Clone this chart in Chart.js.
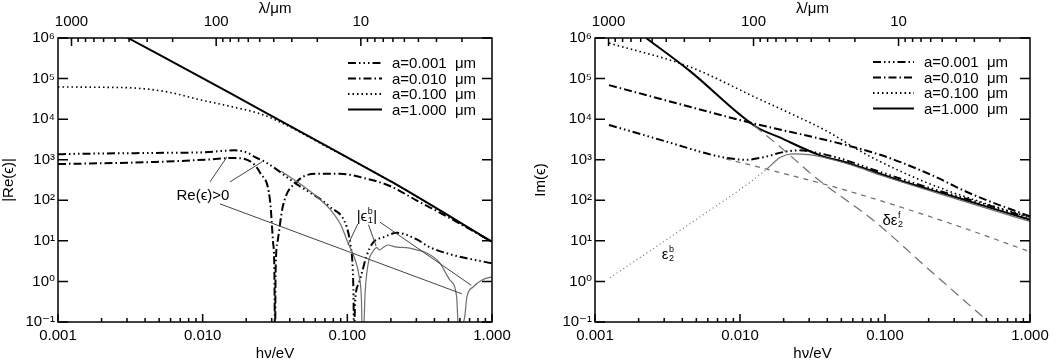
<!DOCTYPE html>
<html>
<head>
<meta charset="utf-8">
<script src="https://cdn.jsdelivr.net/npm/chart.js@4.4.1/dist/chart.umd.min.js"></script>
<style>
  html, body { margin: 0; padding: 0; background: #fff; }
  #wrap { position: relative; width: 1056px; height: 364px; }
  .panel { position: absolute; top: 0; width: 528px; height: 364px; }
</style>
</head>
<body>
<div id="wrap">
  <div class="panel" style="left:0"><canvas id="reChart" width="528" height="364"></canvas></div>
  <div class="panel" style="left:528px"><canvas id="imChart" width="528" height="364"></canvas></div>
</div>
<script>
// tick values and labels
const energyTicks = [0.001, 0.01, 0.1, 1];
const energyTickLabels = ['0.001', '0.010', '0.100', '1.000'];
const lambdaTicks = [1000, 100, 10];
const lambdaTickLabels = ['1000', '100', '10'];
const valueTicks = [0.1, 1, 10, 100, 1e3, 1e4, 1e5, 1e6];
const valueTickLabels = ['10⁻¹', '10⁰', '10¹', '10²', '10³', '10⁴', '10⁵', '10⁶'];
const sizeLabels = ['a=0.001  μm', 'a=0.010  μm', 'a=0.100  μm', 'a=1.000  μm'];

// |Re(eps)| vs h nu (eV), left panel
const reA0001 = [[0.001,1365],[0.00125,1390],[0.0047,1470],[0.0104,1530],[0.0167,1700],[0.0206,1470],[0.0229,1175],[0.0278,830],[0.0446,250],[0.0757,69],[0.099,22],[0.105,8],[0.109,2],[0.1105,0.3],[0.111,0.05],[0.1115,0.05],[0.113,0.3],[0.12,0.9],[0.128,2.0],[0.135,4],[0.15,8.9],[0.18,12.5],[0.22,15.8],[0.3,11],[0.37,7],[0.5,4.8],[0.7,3.6],[1.0,2.8]];
const reA0010 = [[0.001,780],[0.0047,880],[0.0104,1000],[0.016,1100],[0.0195,1040],[0.0229,740],[0.025,470],[0.0292,100],[0.0306,10],[0.0313,2],[0.0316,0.05],[0.0317,0.05],[0.0319,1.5],[0.033,10],[0.0358,70],[0.0446,283],[0.0617,450],[0.089,450],[0.136,340],[0.197,225],[0.3,100],[0.5,38],[1.0,9.5]];
const reA0100 = [[0.001,6.2e4],[0.002,6.1e4],[0.0035,5.8e4],[0.0057,4.7e4],[0.0096,3.0e4],[0.0162,2.0e4],[0.025,1.35e4],[0.04,6500],[0.07,2200],[0.113,890],[0.206,273],[1.0,9.4]];
const reA1000 = [[0.003,1.03e6],[0.0155,4.4e4],[0.04,6800],[0.113,900],[0.206,275],[1.0,9.5]];
const reBound = [[0.035,520],[0.05,220],[0.062,120],[0.076,60],[0.09,25],[0.101,9],[0.113,3.5],[0.12,1.5],[0.125,0.4],[0.127,0.05],[0.129,0.05],[0.133,0.6],[0.14,3],[0.15,5.4],[0.16,6.8],[0.167,6.0],[0.176,6.8],[0.19,7.9],[0.22,7.0],[0.256,6.8],[0.3,6.0],[0.35,5.1],[0.434,2.9],[0.51,1.1],[0.57,0.41],[0.588,0.05],[0.6,0.05],[0.65,0.15],[0.67,0.41],[0.74,0.73],[0.86,1.1],[1.0,1.3]];

// pointer lines on the left panel
const ptrPositive1 = [[0.01123,284],[0.01472,1172]];
const ptrPositive2 = [[0.01545,284],[0.0257,883]];
const ptrPositive3 = [[0.01318,81.5],[0.619,0.495]];
const ptrBound1 = [[0.101,8.0],[0.118,26]];
const ptrBound2 = [[0.14,25],[0.158,7.5]];
const ptrBound3 = [[0.168,29],[0.72,0.8]];

// Im(eps) vs h nu (eV), right panel
const imA0001 = [[0.00125,7200],[0.003,2900],[0.0076,1150],[0.011,1000],[0.0145,1150],[0.02,1550],[0.0255,1700],[0.035,1450],[0.05,1050],[0.0925,500],[0.2,205],[0.5,78],[1.0,36]];
const imA0010 = [[0.00125,6.9e4],[0.01,9500],[0.0925,1320],[0.2,450],[0.4,140],[1.0,40]];
const imA0100 = [[0.00125,7.5e5],[0.0045,1.95e5],[0.0131,3.3e4],[0.0221,1.4e4],[0.04,5000],[0.0662,1700],[0.0925,900],[0.2,260],[0.5,82],[1.0,38]];
const imA1000 = [[0.00225,1e6],[0.0045,1.55e5],[0.0129,6500],[0.0186,3600],[0.035,1320],[0.0574,800],[0.133,290],[0.3,122],[1.0,33]];
const imBoundLow = [[0.00127,1.23],[0.0025,6.3],[0.0053,39],[0.0123,316],[0.0154,600]];
const imBound = [[0.0154,600],[0.019,1150],[0.023,1400],[0.03,1330],[0.0373,1150],[0.06,720],[0.0925,420],[0.2,175],[0.5,64],[1.0,30]];
const imFreeSmall = [[0.008,1050],[0.022,420],[0.05,190],[0.1,90],[0.3,25],[1.0,5.4]];
const imFreeBulk = [[0.0125,7000],[0.02,1750],[0.033,370],[0.085,30],[0.2,2.0],[0.52,0.1],[0.6,0.065]];

// label anchors (data coordinates)
const notePositiveAt = [0.01005, 128];
const noteBoundReAt = [0.1365, 39];
const noteBoundImAt = [0.00319, 4.5];
const noteFreeImAt = [0.1135, 31];

const FAMILY = '"Liberation Sans", "DejaVu Sans", sans-serif';
const tickFont = { family: FAMILY, size: 15 };
const sizeDashes = [[8, 3, 1.5, 3, 1.5, 3, 1.5, 3], [8, 3, 1.5, 3], [1.5, 3], []];
const GRAY = '#6e6e6e';

function line(points, color, width, dash, smooth) {
    return {
        data: points.map(p => ({ x: p[0], y: p[1] })),
        borderColor: color,
        borderWidth: width,
        borderDash: dash,
        pointRadius: 0,
        fill: false,
        cubicInterpolationMode: smooth === false ? 'default' : 'monotone',
        tension: 0
    };
}

function makeScales(yTitle, yWidth, yTitlePad) {
    return {
        x: {
            type: 'logarithmic', position: 'bottom', min: 0.001, max: 1,
            afterBuildTicks: s => { s.ticks = energyTicks.map(v => ({ value: v })); },
            afterFit: s => { s.height = 42; },
            grid: { display: false, drawTicks: false },
            border: { display: false },
            ticks: { callback: (v, i) => energyTickLabels[i], color: '#000', font: tickFont, padding: 5, maxRotation: 0, autoSkip: false },
            title: { display: true, text: 'hν/eV', color: '#000', font: tickFont, padding: { top: 0, bottom: 1 } }
        },
        xTop: {
            type: 'logarithmic', position: 'top', min: 1.23984, max: 1239.84, reverse: true,
            afterBuildTicks: s => { s.ticks = lambdaTicks.map(v => ({ value: v })); },
            afterFit: s => { s.height = 38; },
            grid: { display: false, drawTicks: false },
            border: { display: false },
            ticks: { callback: (v, i) => lambdaTickLabels[i], color: '#000', font: tickFont, padding: 7, maxRotation: 0, autoSkip: false },
            title: { display: true, text: 'λ/μm', color: '#000', font: tickFont, padding: { top: 0, bottom: 0 } }
        },
        y: {
            type: 'logarithmic', position: 'left', min: 0.1, max: 1e6,
            afterBuildTicks: s => { s.ticks = valueTicks.map(v => ({ value: v })); },
            afterFit: s => { s.width = yWidth; },
            grid: { display: false, drawTicks: false },
            border: { display: false },
            ticks: { callback: (v, i) => valueTickLabels[i], color: '#000', font: tickFont, padding: 3, autoSkip: false },
            title: { display: true, text: yTitle, color: '#000', font: tickFont, padding: { top: yTitlePad, bottom: 0 } }
        }
    };
}

// box and inward tick marks, like the original plot
const framePlugin = {
    id: 'frame',
    afterDatasetsDraw(chart) {
        const { ctx, chartArea: a, scales } = chart;
        ctx.save();
        ctx.strokeStyle = '#000';
        ctx.lineWidth = 1.5;
        ctx.strokeRect(a.left, a.top, a.right - a.left, a.bottom - a.top);
        ctx.beginPath();
        for (let d = 0.001; d < 1.5; d *= 10) {
            for (let m = 1; m <= 9; m++) {
                const v = d * m;
                if (v > 1.0001) break;
                const x = scales.x.getPixelForValue(v);
                const len = m === 1 ? 8 : 4;
                ctx.moveTo(x, a.bottom); ctx.lineTo(x, a.bottom - len);
            }
        }
        for (let d = 1; d < 2000; d *= 10) {
            for (let m = 1; m <= 9; m++) {
                const v = d * m;
                if (v < 1.24 || v > 1239) continue;
                const x = scales.xTop.getPixelForValue(v);
                const len = m === 1 ? 8 : 4;
                ctx.moveTo(x, a.top); ctx.lineTo(x, a.top + len);
            }
        }
        valueTicks.forEach(v => {
            const y = scales.y.getPixelForValue(v);
            ctx.moveTo(a.left, y); ctx.lineTo(a.left + 10, y);
            ctx.moveTo(a.right, y); ctx.lineTo(a.right - 10, y);
        });
        ctx.stroke();
        ctx.restore();
    }
};

const legendPlugin = {
    id: 'sizeLegend',
    afterDatasetsDraw(chart, args, opts) {
        const { ctx } = chart;
        ctx.save();
        ctx.font = '15px ' + FAMILY;
        ctx.textBaseline = 'middle';
        ctx.textAlign = 'left';
        ctx.fillStyle = '#000';
        ctx.strokeStyle = '#000';
        ctx.lineWidth = 2;
        sizeLabels.forEach((label, i) => {
            const y = opts.top + i * 15.5;
            ctx.beginPath();
            ctx.setLineDash(sizeDashes[i]);
            ctx.moveTo(opts.x0, y); ctx.lineTo(opts.x1, y);
            ctx.stroke();
            ctx.setLineDash([]);
            ctx.fillText(label, opts.tx, y + 1);
        });
        ctx.restore();
    }
};

function drawNote(ctx, px, py, parts) {
    const main = '15px ' + FAMILY, small = '9px ' + FAMILY;
    let w = 0;
    parts.forEach(p => {
        if (p.t) { ctx.font = main; w += ctx.measureText(p.t).width; }
        else { ctx.font = small; w += Math.max(ctx.measureText(p.sup).width, ctx.measureText(p.sub).width) + 1; }
    });
    let cx = px - w / 2;
    parts.forEach(p => {
        if (p.t) {
            ctx.font = main; ctx.fillText(p.t, cx, py);
            cx += ctx.measureText(p.t).width;
        } else {
            ctx.font = small;
            ctx.fillText(p.sup, cx + 0.5, py - 5);
            ctx.fillText(p.sub, cx + 0.5, py + 4);
            cx += Math.max(ctx.measureText(p.sup).width, ctx.measureText(p.sub).width) + 1;
        }
    });
}

const notePlugin = {
    id: 'notes',
    afterDatasetsDraw(chart, args, opts) {
        const { ctx, scales } = chart;
        ctx.save();
        ctx.fillStyle = '#000';
        ctx.textBaseline = 'middle';
        ctx.textAlign = 'left';
        opts.items.forEach(n => {
            drawNote(ctx, scales.x.getPixelForValue(n.at[0]), scales.y.getPixelForValue(n.at[1]), n.parts);
        });
        ctx.restore();
    }
};

function grafik(id, datasets, yTitle, yWidth, yTitlePad, padRight, legendOpts, notes) {
    return new Chart(document.getElementById(id), {
        type: 'line',
        data: { datasets: datasets },
        plugins: [framePlugin, legendPlugin, notePlugin],
        options: {
            responsive: false,
            animation: false,
            events: [],
            layout: { padding: { left: 0, right: padRight, top: 0, bottom: 0 } },
            scales: makeScales(yTitle, yWidth, yTitlePad),
            plugins: {
                legend: { display: false },
                tooltip: { enabled: false },
                sizeLegend: legendOpts,
                notes: { items: notes }
            }
        }
    });
}

const reChart = grafik('reChart', [
    line(ptrPositive1, '#444', 1, [], false),
    line(ptrPositive2, '#444', 1, [], false),
    line(ptrPositive3, '#444', 1, [], false),
    line(ptrBound1, '#444', 1, [], false),
    line(ptrBound2, '#444', 1, [], false),
    line(ptrBound3, '#444', 1, [], false),
    line(reBound, GRAY, 1.2, []),
    line(reA0001, '#000', 2, sizeDashes[0]),
    line(reA0010, '#000', 2, sizeDashes[1]),
    line(reA0100, '#000', 1.6, sizeDashes[2]),
    line(reA1000, '#000', 2, sizeDashes[3])
], '|Re(ϵ)|', 58, 0, 36, { x0: 348, x1: 382, tx: 392, top: 63 }, [
    { at: notePositiveAt, parts: [{ t: 'Re(ϵ)>0' }] },
    { at: noteBoundReAt, parts: [{ t: '|ϵ' }, { sup: 'b', sub: '1' }, { t: '|' }] }
]);

const imChart = grafik('imChart', [
    line(imBoundLow, GRAY, 1.2, [1, 3]),
    line(imBound, GRAY, 1.2, []),
    line(imFreeSmall, GRAY, 1.2, [5, 5]),
    line(imFreeBulk, GRAY, 1.2, [10, 6]),
    line(imA0001, '#000', 2, sizeDashes[0]),
    line(imA0010, '#000', 2, sizeDashes[1]),
    line(imA0100, '#000', 1.6, sizeDashes[2]),
    line(imA1000, '#000', 2, sizeDashes[3])
], 'Im(ϵ)', 67, 4, 26, { x0: 345, x1: 386, tx: 396, top: 62 }, [
    { at: noteBoundImAt, parts: [{ t: 'ε' }, { sup: 'b', sub: '2' }] },
    { at: noteFreeImAt, parts: [{ t: 'δε' }, { sup: 'f', sub: '2' }] }
]);
</script>
</body>
</html>
